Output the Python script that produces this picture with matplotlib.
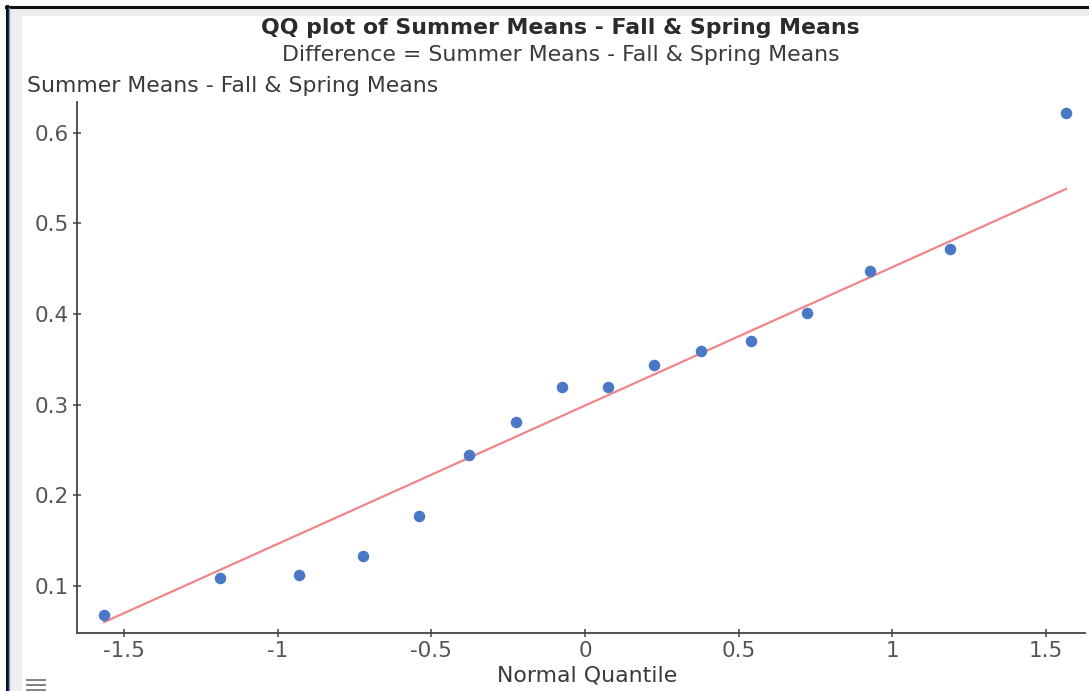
"""QQ plot of Summer Means - Fall & Spring Means."""

import matplotlib

matplotlib.use("Agg")
import matplotlib.pyplot as plt
from matplotlib.lines import Line2D
from matplotlib.patches import Rectangle

# normal quantiles (i / (n + 1)) and sorted differences
normal_quantiles = [-1.565, -1.187, -0.929, -0.722, -0.541, -0.377, -0.223, -0.074,
                    0.074, 0.223, 0.377, 0.541, 0.722, 0.929, 1.187, 1.565]
differences = [0.068, 0.109, 0.112, 0.133, 0.177, 0.244, 0.281, 0.320,
               0.320, 0.344, 0.359, 0.370, 0.401, 0.448, 0.472, 0.622]

# reference line endpoints
line_x = [-1.565, 1.565]
line_y = [0.060, 0.538]

x_ticks = [-1.5, -1, -0.5, 0, 0.5, 1, 1.5]
x_tick_labels = ["-1.5", "-1", "-0.5", "0", "0.5", "1", "1.5"]
y_ticks = [0.1, 0.2, 0.3, 0.4, 0.5, 0.6]
y_tick_labels = ["0.1", "0.2", "0.3", "0.4", "0.5", "0.6"]

TITLE = "QQ plot of Summer Means - Fall & Spring Means"
SUBTITLE = "Difference = Summer Means - Fall & Spring Means"
Y_LABEL = "Summer Means - Fall & Spring Means"
X_LABEL = "Normal Quantile"

W, H = 1089, 691
TEXT = "#3a3a3a"
AXIS = "#444444"

fig = plt.figure(figsize=(W / 100, H / 100), dpi=100)
fig.patch.set_facecolor("white")


def fx(px):
    return px / W


def fy(py):
    return 1 - py / H


# window frame bits from the screenshot
fig.patches.append(Rectangle((fx(9), 0), fx(13), fy(8), transform=fig.transFigure,
                             facecolor="#eeeeee", edgecolor="none", zorder=0))
fig.patches.append(Rectangle((fx(9), fy(16)), 1, fy(8) - fy(16), transform=fig.transFigure,
                             facecolor="#eeeeee", edgecolor="none", zorder=0))
fig.lines.append(Line2D([fx(7), fx(7)], [0, fy(6)], transform=fig.transFigure,
                        color="#111111", linewidth=2.2))
fig.lines.append(Line2D([fx(6), 1], [fy(6.5), fy(6.5)], transform=fig.transFigure,
                        color="#111111", linewidth=2.2))
fig.lines.append(Line2D([fx(9.2), fx(9.2)], [0, fy(8)], transform=fig.transFigure,
                        color="#6f9cf0", linewidth=1.0))

ax = fig.add_axes([fx(77), fy(633), fx(1085) - fx(77), fy(102) - fy(633)])
ax.plot(line_x, line_y, color="#f0858a", linewidth=1.6, zorder=2)
ax.plot(normal_quantiles, differences, "o", color="#4a78c6", markersize=8.3,
        markeredgewidth=0, zorder=3)

ax.set_xlim(-1.653, 1.627)
ax.set_ylim(0.048, 0.634)
ax.set_xticks(x_ticks, x_tick_labels)
ax.set_yticks(y_ticks, y_tick_labels)

for side in ("top", "right"):
    ax.spines[side].set_visible(False)
for side in ("left", "bottom"):
    ax.spines[side].set_color(AXIS)
    ax.spines[side].set_linewidth(1.3)
ax.tick_params(direction="inout", length=6, width=1.1, color=AXIS,
               labelsize=15.5, labelcolor="#555555", pad=3)

fig.text(fx(560), fy(28), TITLE, ha="center", va="center", fontsize=15.8,
         fontweight="bold", color="#2b2b2b")
fig.text(fx(561), fy(55), SUBTITLE, ha="center", va="center", fontsize=15.8,
         color=TEXT)
fig.text(fx(27), fy(86), Y_LABEL, ha="left", va="center", fontsize=15.8, color=TEXT)
fig.text(fx(587), fy(675), X_LABEL, ha="center", va="center", fontsize=15.8, color=TEXT)

# menu icon bottom-left
for py in (680, 685, 690):
    fig.lines.append(Line2D([fx(27), fx(45)], [fy(py), fy(py)], transform=fig.transFigure,
                            color="#777777", linewidth=1.3))

fig.savefig("out.png", dpi=100)
